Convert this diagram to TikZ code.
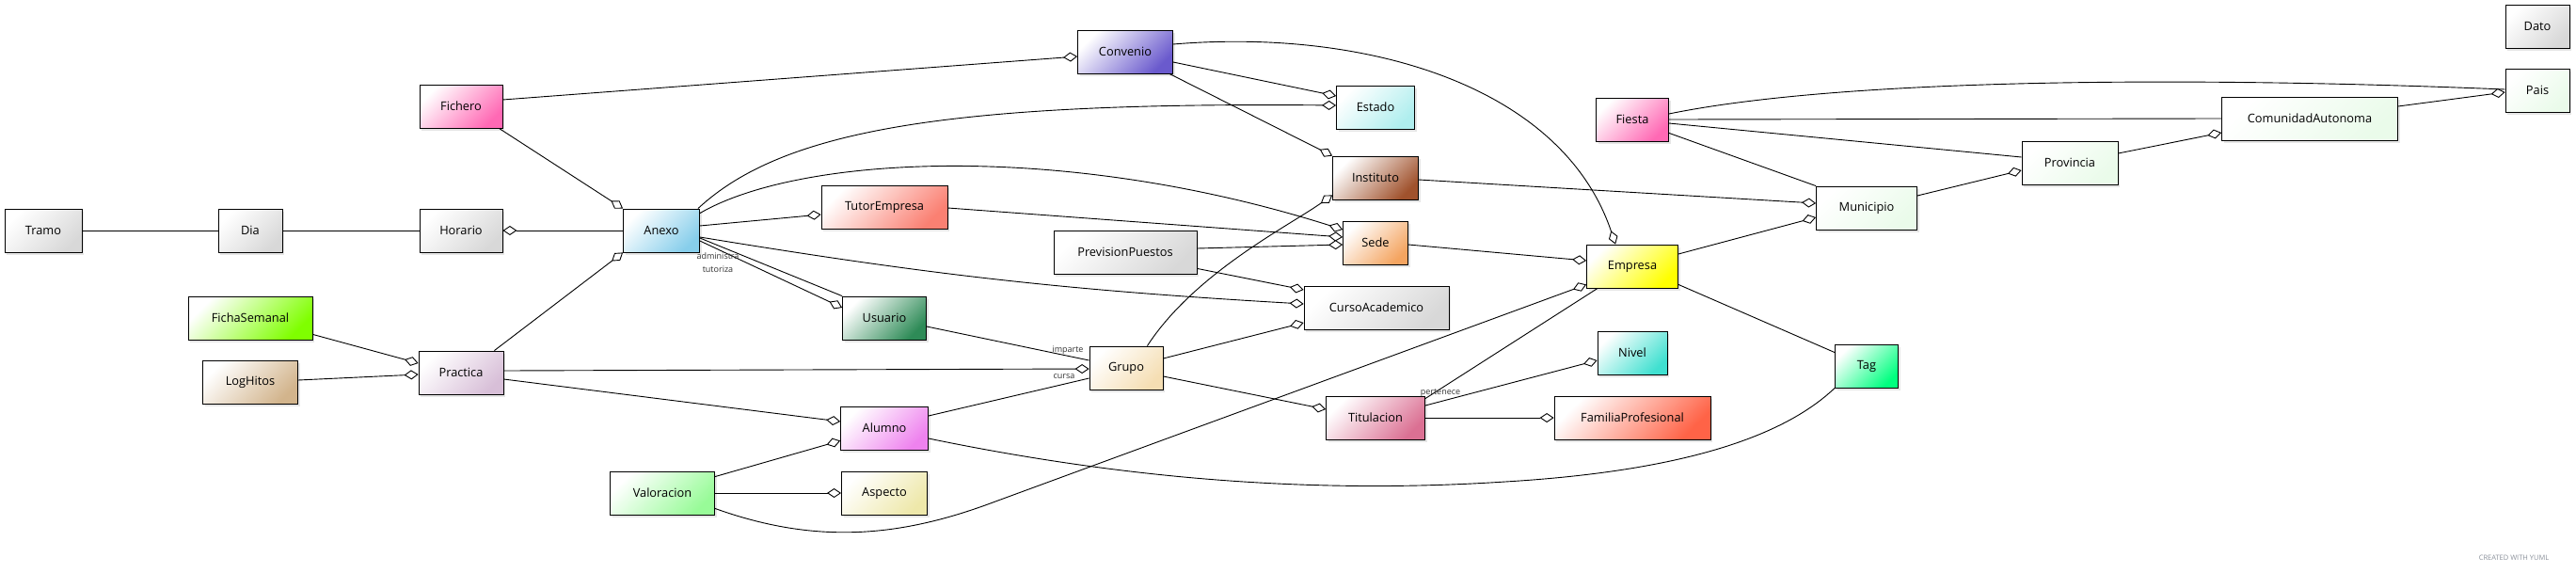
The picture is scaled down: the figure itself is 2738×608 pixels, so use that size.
\documentclass[tikz,border=0pt]{standalone}
\usepackage{fontspec}
\setmainfont{Open Sans}
\usetikzlibrary{arrows.meta,shadows,calc}
\definecolor{cgray}{HTML}{D8D8D8}
\definecolor{chotpink}{HTML}{FF69B4}
\definecolor{cskyblue}{HTML}{87CEEB}
\definecolor{cchartreuse}{HTML}{7FFF00}
\definecolor{ctan}{HTML}{D2B48C}
\definecolor{cthistle}{HTML}{D8BFD8}
\definecolor{cpalegreen}{HTML}{98FB98}
\definecolor{csalmon}{HTML}{FA8072}
\definecolor{cseagreen}{HTML}{2E8B57}
\definecolor{cviolet}{HTML}{EE82EE}
\definecolor{cpalegold}{HTML}{EEE8AA}
\definecolor{cwheat}{HTML}{F5DEB3}
\definecolor{cslateblue}{HTML}{6A5ACD}
\definecolor{cpaleturq}{HTML}{AFEEEE}
\definecolor{csienna}{HTML}{A0522D}
\definecolor{csandy}{HTML}{F4A460}
\definecolor{cpvred}{HTML}{DB7093}
\definecolor{cyellow}{HTML}{FFFF00}
\definecolor{cturq}{HTML}{40E0D0}
\definecolor{ctomato}{HTML}{FF6347}
\definecolor{cspring}{HTML}{00FF7F}
\definecolor{choneydew}{HTML}{EAFBEA}
\definecolor{cwm}{HTML}{8A909A}
\definecolor{cshadow}{HTML}{E6E6E6}
\begin{document}
\begin{tikzpicture}[x=1pt,y=-1pt,
  box/.style={draw=black, line width=0.8pt, minimum height=46pt, inner sep=0pt,
    font=\fontsize{12.8}{15}\selectfont,
    top color=white, bottom color=#1, shading angle=45,
    drop shadow={shadow xshift=2pt, shadow yshift=-3pt, fill=cshadow, opacity=1, draw=none}},
  edge/.style={draw=black, line width=0.9pt},
  agg/.style={edge, -{Diamond[fill=white,length=15pt,width=10pt]}},
  lbl/.style={font=\fontsize{9}{10}\selectfont, text=black!80, inner sep=0pt},
  wm/.style={font=\fontsize{7.5}{9}\selectfont, text=cwm, inner sep=0pt}]
\path[use as bounding box, fill=white] (0,0) rectangle (2738,608);

% nodes
\node[box=cgray, minimum width=82pt] (tramo) at (46,245) {Tramo};
\node[box=cgray, minimum width=68pt] (dia) at (266,245) {Dia};
\node[box=cgray, minimum width=88pt] (horario) at (490,245) {Horario};
\node[box=chotpink, minimum width=88pt] (fichero) at (490,113) {Fichero};
\node[box=cskyblue, minimum width=81pt] (anexo) at (703,245) {Anexo};
\node[box=cchartreuse, minimum width=132pt] (fichasemanal) at (266,338) {FichaSemanal};
\node[box=ctan, minimum width=101pt] (loghitos) at (266,406) {LogHitos};
\node[box=cthistle, minimum width=90pt] (practica) at (490,396) {Practica};
\node[box=cpalegreen, minimum width=111pt] (valoracion) at (704,524) {Valoracion};
\node[box=csalmon, minimum width=134pt] (tutorempresa) at (940,220) {TutorEmpresa};
\node[box=cseagreen, minimum width=89pt] (usuario) at (940,338) {Usuario};
\node[box=cviolet, minimum width=93pt] (alumno) at (940,455) {Alumno};
\node[box=cpalegold, minimum width=91pt] (aspecto) at (940,524) {Aspecto};
\node[box=cgray, minimum width=152pt] (previsionpuestos) at (1196,268) {PrevisionPuestos};
\node[box=cwheat, minimum width=78pt] (grupo) at (1197,391) {Grupo};
\node[box=cslateblue, minimum width=101pt] (convenio) at (1196,55) {Convenio};
\node[box=cpaleturq, minimum width=83pt] (estado) at (1462,114) {Estado};
\node[box=csienna, minimum width=91pt] (instituto) at (1462,189) {Instituto};
\node[box=csandy, minimum width=69pt] (sede) at (1462,258) {Sede};
\node[box=cgray, minimum width=154pt] (cursoacademico) at (1463,327) {CursoAcademico};
\node[box=cpvred, minimum width=105pt] (titulacion) at (1462,444) {Titulacion};
\node[box=cyellow, minimum width=97pt] (empresa) at (1735,283) {Empresa};
\node[box=cturq, minimum width=74pt] (nivel) at (1735,375) {Nivel};
\node[box=ctomato, minimum width=166pt] (familiaprofesional) at (1735,444) {FamiliaProfesional};
\node[box=chotpink, minimum width=77pt] (fiesta) at (1735,127) {Fiesta};
\node[box=cspring, minimum width=67pt] (tag) at (1984,389) {Tag};
\node[box=choneydew, minimum width=107pt] (municipio) at (1984,221) {Municipio};
\node[box=choneydew, minimum width=102pt] (provincia) at (2200,173) {Provincia};
\node[box=choneydew, minimum width=187pt] (comunidadautonoma) at (2455,126) {ComunidadAutonoma};
\node[box=choneydew, minimum width=68pt] (pais) at (2697,96) {Pais};
\node[box=cgray, minimum width=68pt] (dato) at (2697,28) {Dato};

% connectors
\draw[edge] (tramo.east) -- (dia.west);
\draw[edge] (dia.east) -- (horario.west);
\draw[agg] (anexo.west) -- (horario.east);
\draw[agg] ($(fichero.south east)+(-4,0)$) -- (anexo.north west);
\draw[agg] ($(fichero.east)+(0,-7)$) -- ($(convenio.west)+(0,5)$);
\draw[agg] ($(practica.north east)+(-10,0)$) -- (anexo.south west);
\draw[agg] ($(fichasemanal.south east)+(0,-6)$) -- ($(practica.west)+(0,-10)$);
\draw[agg] ($(loghitos.east)+(0,-2)$) -- ($(practica.west)+(0,2)$);
\draw[agg] ($(practica.east)+(0,-2)$) -- ($(grupo.west)+(0,1)$);
\draw[agg] ($(practica.east)+(0,7)$) -- ($(alumno.west)+(0,-7)$);
\draw[agg] ($(anexo.east)+(0,-5)$) -- ($(tutorempresa.west)+(0,8)$);
\draw[agg] ($(anexo.east)+(0,7)$) to[bend right=3] ($(cursoacademico.west)+(0,-4)$);
\draw[edge] ($(anexo.east)+(0,8)$) -- (usuario.north west);
\draw[agg] ($(anexo.east)+(0,11)$) -- ($(usuario.west)+(0,-11)$);
\node[lbl] (ladm) at (763,272) {administra};
\node[lbl] (ltut) at (763,286) {tutoriza};
\draw[agg] ($(anexo.north east)+(-2,0)$) .. controls (830,140) and (1000,108) .. ($(estado.west)+(0,-2)$);
\draw[agg] ($(anexo.north east)+(0,5)$) .. controls (850,165) and (1130,150) .. ($(sede.west)+(0,-14)$);
\draw[agg] ($(tutorempresa.east)+(0,1)$) -- ($(sede.west)+(0,-6)$);
\draw[agg] ($(previsionpuestos.east)+(0,-4)$) -- ($(sede.west)+(0,2)$);
\draw[agg] ($(previsionpuestos.south east)+(0,-6)$) -- ($(cursoacademico.west)+(0,-19)$);
\draw[agg] ($(grupo.east)+(0,-10)$) -- ($(cursoacademico.west)+(0,16)$);
\draw[agg] ($(grupo.north east)+(-17,0)$) .. controls (1270,290) and (1370,240) .. ($(instituto.south west)+(0,-5)$);
\draw[agg] ($(grupo.east)+(0,9)$) -- ($(titulacion.west)+(0,-9)$);
\draw[agg] ($(convenio.east)+(0,11)$) -- ($(estado.west)+(0,-12)$);
\draw[agg] ($(convenio.south east)+(-4,0)$) -- (instituto.north west);
\draw[agg] ($(convenio.east)+(0,-8)$) .. controls (1450,30) and (1660,90) .. ($(empresa.north west)+(31,0)$);
\draw[agg] ($(sede.east)+(0,2)$) -- ($(empresa.west)+(0,-6)$);
\draw[edge] ($(titulacion.north east)+(0,3)$) -- ($(empresa.south west)+(12,0)$);
\draw[agg] ($(titulacion.east)+(0,-13)$) -- ($(nivel.west)+(0,8)$);
\node[lbl] (lper) at (1531,418) {pertenece};
\draw[agg] (titulacion.east) -- (familiaprofesional.west);
\draw[agg] ($(valoracion.north east)+(0,6)$) -- ($(alumno.south west)+(0,-10)$);
\draw[agg] (valoracion.east) -- (aspecto.west);
\draw[agg] ($(valoracion.south east)+(0,-7)$) .. controls (870,580) and (960,570) .. (1058,533) -- ($(empresa.south west)+(0,-4)$);
\draw[edge] ($(alumno.east)+(0,-13)$) -- ($(grupo.west)+(0,11)$);
\node[lbl] (lcur) at (1131,400) {cursa};
\draw[edge] ($(usuario.east)+(0,9)$) -- ($(grupo.west)+(0,-8)$);
\node[lbl] (limp) at (1135,372) {imparte};
\draw[edge] ($(alumno.east)+(0,11)$) .. controls (1200,510) and (1400,525) .. (1600,512) .. controls (1800,500) and (1900,460) .. (tag.south west);
\draw[edge] ($(empresa.south east)+(0,-4)$) -- ($(tag.north west)+(0,9)$);
\draw[agg] ($(empresa.east)+(0,-13)$) -- ($(municipio.west)+(0,10)$);
\draw[agg] ($(instituto.east)+(0,2)$) -- ($(municipio.west)+(0,-5)$);
\draw[edge] ($(fiesta.south east)+(0,-9)$) -- (municipio.north west);
\draw[edge] ($(fiesta.east)+(0,4)$) -- ($(provincia.west)+(0,-6)$);
\draw[edge] (fiesta.east) -- (comunidadautonoma.west);
\draw[edge] ($(fiesta.east)+(0,-6)$) .. controls (1950,85) and (2300,80) .. ($(pais.west)+(0,-1)$);
\draw[agg] ($(municipio.east)+(0,-13)$) -- ($(provincia.west)+(0,8)$);
\draw[agg] ($(provincia.east)+(0,-10)$) -- ($(comunidadautonoma.west)+(0,15)$);
\draw[agg] ($(comunidadautonoma.east)+(0,-13)$) -- ($(pais.west)+(0,2)$);

\node[wm] (wm) at (2672,593) {CREATED WITH YUML};
\end{tikzpicture}
\end{document}
